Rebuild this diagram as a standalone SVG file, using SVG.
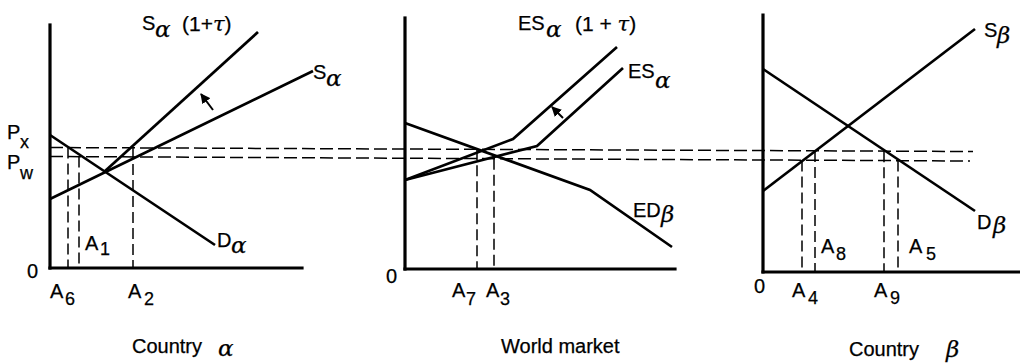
<svg xmlns="http://www.w3.org/2000/svg" width="1020" height="364" viewBox="0 0 1020 364">
<style>
.ax{stroke:#000;stroke-width:3.2;fill:none;stroke-linecap:square}
.cv{stroke:#000;stroke-width:2.7;fill:none;stroke-linejoin:miter}
.dh{stroke:#000;stroke-width:1.5;fill:none;stroke-dasharray:13 5}
.dv{stroke:#000;stroke-width:1.5;fill:none;stroke-dasharray:11 5}
.ar{stroke:#000;stroke-width:2;fill:none}
text{font-family:"Liberation Sans",Arial,sans-serif;font-size:20px;fill:#000;stroke:#000;stroke-width:0.25}
.g{font-family:"DejaVu Serif","Liberation Serif",serif;font-style:italic;font-size:23px}
.t{font-family:"DejaVu Serif","Liberation Serif",serif;font-style:italic;font-size:21px}
.s{font-size:18px}
.p{font-size:21px}
</style>
<defs>
<marker id="ah" viewBox="0 0 10 10" refX="9" refY="5" markerWidth="5" markerHeight="5" orient="auto" markerUnits="strokeWidth">
<path d="M0,0 L10,5 L0,10 z" fill="#000"/>
</marker>
</defs>
<rect width="1020" height="364" fill="#fff"/>

<g id="connectors">
<line class="dh" x1="50" y1="147.5" x2="973" y2="151.5"/>
<line class="dh" x1="50" y1="156.5" x2="970" y2="161"/>
</g>

<g id="panel-alpha">
<line class="ax" x1="50" y1="25" x2="50" y2="268"/>
<line class="ax" x1="50" y1="268" x2="302" y2="268"/>
<line class="dv" x1="68" y1="147.6" x2="68" y2="268"/>
<line class="dv" x1="79" y1="156.6" x2="79" y2="268"/>
<line class="dv" x1="133" y1="147.9" x2="133" y2="268"/>
<line class="cv" x1="50" y1="199" x2="313" y2="71"/>
<line class="cv" x1="104" y1="172" x2="258" y2="32"/>
<line class="cv" x1="50" y1="135" x2="215" y2="245"/>
<line class="ar" x1="213" y1="110" x2="201" y2="94" marker-end="url(#ah)"/>
<text x="7" y="139">P<tspan x="20" y="148" class="s">x</tspan></text>
<text x="7" y="169">P<tspan x="20" y="179" class="s">w</tspan></text>
<text x="27" y="278">0</text>
<text x="50" y="298">A<tspan x="65" y="305" class="s">6</tspan></text>
<text x="128" y="298">A<tspan x="144" y="305" class="s">2</tspan></text>
<text x="85" y="250">A<tspan x="100" y="255" class="s">1</tspan></text>
<text x="142" y="30">S<tspan class="g" x="155" y="37">α</tspan><tspan x="182" y="31" class="p">(1+</tspan><tspan class="t">τ</tspan><tspan class="p">)</tspan></text>
<text x="313" y="79">S<tspan class="g" x="326" y="86">α</tspan></text>
<text x="217" y="247">D<tspan class="g" x="231" y="253">α</tspan></text>
<text x="132" y="353" font-size="22">Country<tspan class="g" x="218" y="356" font-size="29">α</tspan></text>
</g>

<g id="panel-world">
<line class="ax" x1="405" y1="18" x2="405" y2="269"/>
<line class="ax" x1="405" y1="269" x2="675" y2="269"/>
<line class="dv" x1="477" y1="149.3" x2="477" y2="269"/>
<line class="dv" x1="494" y1="158.7" x2="494" y2="269"/>
<polyline class="cv" points="405,123 590,190 672,247"/>
<polyline class="cv" points="405,180 537,146 623,68"/>
<polyline class="cv" points="405,180 513,139 617,47"/>
<line class="ar" x1="563" y1="118" x2="552" y2="107" marker-end="url(#ah)"/>
<text x="386" y="283">0</text>
<text x="452" y="297">A<tspan x="466" y="305" class="s">7</tspan></text>
<text x="486" y="297">A<tspan x="500" y="305" class="s">3</tspan></text>
<text x="518" y="30">ES<tspan class="g" x="546" y="37">α</tspan><tspan x="575" y="31" class="p">(1 + </tspan><tspan class="t">τ</tspan><tspan class="p">)</tspan></text>
<text x="628" y="78">ES<tspan class="g" x="655" y="88" font-size="25">α</tspan></text>
<text x="633" y="217">ED<tspan class="g" x="661" y="222">β</tspan></text>
<text x="501" y="353" font-size="19">World market</text>
</g>

<g id="panel-beta">
<line class="ax" x1="763" y1="15" x2="763" y2="272"/>
<line class="ax" x1="763" y1="272" x2="1020" y2="272"/>
<line class="dv" x1="802" y1="160.4" x2="802" y2="272"/>
<line class="dv" x1="815" y1="151" x2="815" y2="272"/>
<line class="dv" x1="884" y1="151.3" x2="884" y2="272"/>
<line class="dv" x1="898" y1="160.6" x2="898" y2="272"/>
<line class="cv" x1="763" y1="191" x2="975" y2="29"/>
<line class="cv" x1="763" y1="69" x2="975" y2="211"/>
<text x="754" y="293">0</text>
<text x="792" y="297">A<tspan x="808" y="304" class="s">4</tspan></text>
<text x="874" y="297">A<tspan x="890" y="304" class="s">9</tspan></text>
<text x="821" y="253">A<tspan x="836" y="260" class="s">8</tspan></text>
<text x="909" y="253">A<tspan x="926" y="260" class="s">5</tspan></text>
<text x="984" y="37">S<tspan class="g" x="997" y="43">β</tspan></text>
<text x="977" y="229">D<tspan class="g" x="993" y="233">β</tspan></text>
<text x="849" y="356" font-size="22">Country<tspan class="g" x="946" y="357" font-size="24">β</tspan></text>
</g>
</svg>
